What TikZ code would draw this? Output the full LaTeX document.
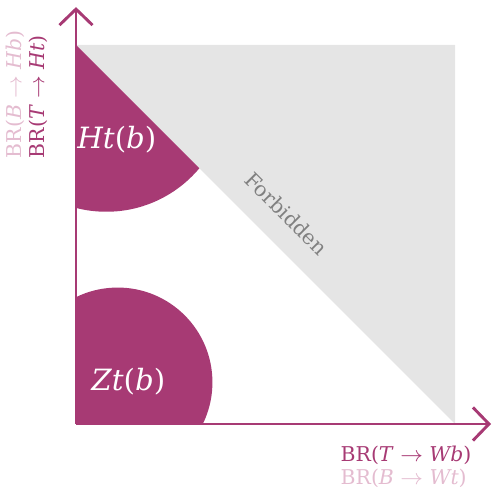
\documentclass[tikz,border=0pt]{standalone}
\usepackage{fontspec}
\setmainfont{DejaVu Serif}
\usetikzlibrary{arrows.meta}
\definecolor{brpurple}{RGB}{167,58,116}
\definecolor{brpink}{RGB}{228,188,208}
\definecolor{forbgray}{RGB}{229,229,229}
\begin{document}
\begin{tikzpicture}[x=5cm,y=5cm,
  axis/.style={brpurple,line width=1.1pt,-{Straight Barb[length=6pt,width=12.4pt]}},
  brlabel/.style={font=\fontsize{7.65}{8.6}\selectfont,align=left,inner sep=0pt},
  region/.style={font=\fontsize{11}{13}\selectfont,text=white,inner sep=0pt}]
  \useasboundingbox (-0.2005,-0.1662) rectangle (1.1003,1.1187);
  \coordinate (O) at (0,0); \coordinate (X) at (1,0);
  \coordinate (Y) at (0,1); \coordinate (XY) at (1,1);
  \coordinate (Xend) at (1.095,0); \coordinate (Yend) at (0,1.10);
  \fill[forbgray] (Y)--(XY)--(X)--cycle;
  \begin{scope}
    \clip (O)--(X)--(Y)--cycle;
    \fill[brpurple] (0.08,0.88) circle (0.32);
    \fill[brpurple] (0.11,0.11) circle (0.25);
  \end{scope}
  \draw[axis] (O)--(Xend);
  \draw[axis] (O)--(Yend);
  \node[region] (ht) at (0.108,0.75) {\textit{Ht}(\textit{b})};
  \node[region] (zt) at (0.138,0.111) {\textit{Zt}(\textit{b})};
  \node[font=\fontsize{7.7}{9}\selectfont,text=gray,rotate=-45,inner sep=0pt] (forb) at (0.555,0.555) {Forbidden};
  \node[brlabel,anchor=north west] (xlab) at (0.697,-0.058)
    {\textcolor{brpurple}{BR(\textit{T} $\rightarrow$ \textit{Wb})}\\\textcolor{brpink}{BR(\textit{B} $\rightarrow$ \textit{Wt})}};
  \node[brlabel,rotate=90,anchor=south west] (ylab) at (-0.074,0.70)
    {\textcolor{brpink}{BR(\textit{B} $\rightarrow$ \textit{Hb})}\\\textcolor{brpurple}{BR(\textit{T} $\rightarrow$ \textit{Ht})}};
\end{tikzpicture}
\end{document}
